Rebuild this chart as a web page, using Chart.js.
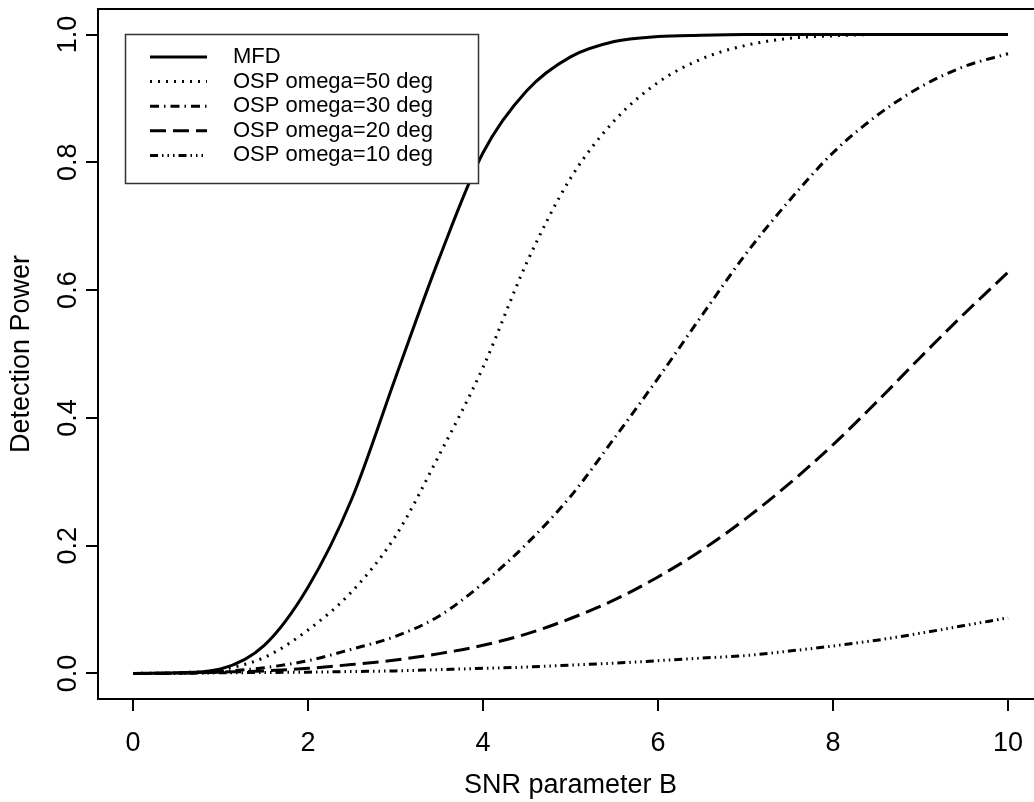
<!DOCTYPE html>
<html>
<head>
<meta charset="utf-8">
<script src="https://cdn.jsdelivr.net/npm/chart.js@4.4.0/dist/chart.umd.min.js"></script>
<style>
  html, body { margin: 0; padding: 0; background: #fff; overflow: hidden; }
  #wrap { width: 1050px; height: 802px; }
</style>
</head>
<body>
<div id="wrap"><canvas id="powergraph" width="1050" height="802"></canvas></div>
<script>
// SNR parameter B, step 0.5
const snr = [0, 0.5, 1, 1.5, 2, 2.5, 3, 3.5, 4, 4.5, 5, 5.5, 6, 6.5, 7, 7.5, 8, 8.5, 9, 9.5, 10];

const mfd   = [0, 0.001, 0.007, 0.044, 0.135, 0.273, 0.463, 0.65, 0.815, 0.912, 0.965, 0.989, 0.997, 0.999, 1, 1, 1, 1, 1, 1, 1];
const osp50 = [0, 0.001, 0.006, 0.025, 0.068, 0.128, 0.215, 0.342, 0.479, 0.643, 0.775, 0.865, 0.925, 0.962, 0.983, 0.994, 0.998, 1, 1, 1, 1];
const osp30 = [0, 0.0005, 0.003, 0.009, 0.02, 0.038, 0.058, 0.09, 0.141, 0.203, 0.277, 0.368, 0.462, 0.56, 0.656, 0.74, 0.815, 0.873, 0.918, 0.95, 0.97];
const osp20 = [0, 0.0003, 0.002, 0.004, 0.008, 0.014, 0.021, 0.031, 0.044, 0.062, 0.086, 0.115, 0.151, 0.193, 0.242, 0.297, 0.358, 0.425, 0.495, 0.563, 0.628];
const osp10 = [0, 0.0003, 0.001, 0.0015, 0.002, 0.003, 0.004, 0.006, 0.008, 0.01, 0.013, 0.016, 0.02, 0.024, 0.028, 0.035, 0.043, 0.052, 0.063, 0.075, 0.087];

const labels = ['MFD', 'OSP omega=50 deg', 'OSP omega=30 deg', 'OSP omega=20 deg', 'OSP omega=10 deg'];
const xTicks = [0, 2, 4, 6, 8, 10];
const yTicks = [0, 0.2, 0.4, 0.6, 0.8, 1.0];

const FONT = "'Liberation Sans', Arial, Helvetica, sans-serif";
Chart.defaults.color = '#000';
Chart.defaults.font.family = FONT;

function pts(ys) {
    return snr.map((x, i) => ({ x: x, y: ys[i] }));
}

function line(label, ys, dash, width) {
    return {
        label: label,
        data: pts(ys),
        borderColor: '#000',
        borderWidth: width,
        borderDash: dash,
        borderCapStyle: 'butt',
        pointRadius: 0,
        fill: false,
        cubicInterpolationMode: 'monotone'
    };
}

// R style legend box in the top left corner
const boxLegend = {
    id: 'boxLegend',
    afterDatasetsDraw(chart) {
        const ctx = chart.ctx;
        const a = chart.chartArea;
        ctx.save();
        // plot frame
        ctx.strokeStyle = '#000';
        ctx.lineWidth = 2;
        ctx.setLineDash([]);
        ctx.strokeRect(a.left, a.top, a.right - a.left, a.bottom - a.top);

        const bx = 125, by = 34, bw = 353, bh = 149;
        ctx.fillStyle = '#fff';
        ctx.fillRect(bx, by, bw, bh);
        ctx.strokeStyle = '#333';
        ctx.lineWidth = 1.5;
        ctx.strokeRect(bx + 0.5, by + 0.5, bw, bh);

        ctx.font = '22px ' + FONT;
        ctx.textBaseline = 'middle';
        ctx.textAlign = 'left';
        chart.data.datasets.forEach((ds, i) => {
            const y = 57 + i * 24.6;
            ctx.strokeStyle = '#000';
            ctx.lineWidth = ds.borderWidth;
            ctx.setLineDash(ds.borderDash);
            ctx.beginPath();
            ctx.moveTo(150, y);
            ctx.lineTo(207, y);
            ctx.stroke();
            ctx.fillStyle = '#000';
            ctx.fillText(ds.label, 233, y);
        });
        ctx.restore();
    }
};

const ctx = document.getElementById('powergraph').getContext('2d');
const powerChart = new Chart(ctx, {
    type: 'line',
    data: {
        datasets: [
            line(labels[0], mfd, [], 3),
            line(labels[1], osp50, [2, 6], 3),
            line(labels[2], osp30, [9, 5, 1.5, 5], 3),
            line(labels[3], osp20, [16, 7], 3),
            line(labels[4], osp10, [8, 4, 1.5, 4, 1.5, 4, 1.5, 4], 3)
        ]
    },
    options: {
        responsive: false,
        animation: false,
        layout: { padding: { top: 9, right: 7, left: 0, bottom: 0 } },
        plugins: {
            legend: { display: false },
            tooltip: { enabled: false }
        },
        scales: {
            x: {
                type: 'linear',
                min: -0.4,
                max: 10.4,
                afterBuildTicks: s => { s.ticks = xTicks.map(v => ({ value: v })); },
                afterFit: s => { s.height = 103; s.paddingLeft = 0; s.paddingRight = 0; },
                border: { display: false },
                grid: { drawOnChartArea: false, drawTicks: true, tickLength: 12, color: '#000', lineWidth: 2 },
                ticks: { font: { size: 27 }, padding: 16, maxRotation: 0, callback: v => String(v) },
                title: { display: true, text: 'SNR parameter B', font: { size: 27 }, padding: { top: 0, bottom: 0 } }
            },
            y: {
                type: 'linear',
                min: -0.04,
                max: 1.04,
                afterBuildTicks: s => { s.ticks = yTicks.map(v => ({ value: v })); },
                afterFit: s => { s.width = 98; s.paddingTop = 0; s.paddingBottom = 0; },
                border: { display: false },
                grid: { drawOnChartArea: false, drawTicks: true, tickLength: 12, color: '#000', lineWidth: 2 },
                ticks: { font: { size: 27 }, padding: -1, minRotation: 90, maxRotation: 90, crossAlign: 'center', callback: v => v.toFixed(1) },
                title: { display: true, text: 'Detection Power', font: { size: 27 }, padding: { top: 5, bottom: 0 } }
            }
        }
    },
    plugins: [boxLegend]
});
</script>
</body>
</html>
